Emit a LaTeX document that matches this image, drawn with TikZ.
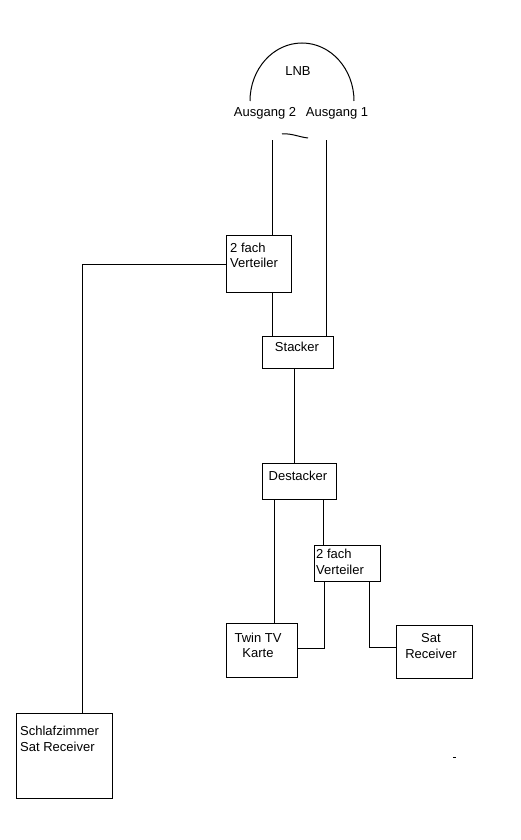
\documentclass[tikz,border=0pt]{standalone}
\usepackage{fontspec}
\setmainfont{Liberation Sans}
\begin{document}
\begin{tikzpicture}[x=1pt,y=-1pt,
  every node/.style={font=\fontsize{13}{15.5}\selectfont},
  conn/.style={draw=black,line width=1pt},
  boxnode/.style={draw=black,line width=1pt,anchor=north west,inner sep=0pt},
  txt/.style={inner sep=0pt,align=left}
]
\useasboundingbox[fill=white] (0,0) rectangle (520,840);

% LNB
\draw[conn] (250,101) arc[start angle=180,end angle=360,x radius=52,y radius=58];
\node[txt] (lnb) at (298,71) {LNB};
\node[txt] (aus2) at (265,113) {Ausgang 2};
\node[txt] (aus1) at (337,113) {Ausgang 1};
\draw[conn] (282,134) .. controls (291,133) and (299,137) .. (308,138);
\coordinate (lnbL) at (272,140);
\coordinate (lnbR) at (326,140);

% boxes
\node[boxnode,minimum width=65pt,minimum height=57pt] (vert1) at (226,235) {};
\node[txt,anchor=north west] (vert1t) at (230,242.5) {2 fach\\Verteiler};

\node[boxnode,minimum width=71pt,minimum height=32pt] (stacker) at (262,336) {};
\node[txt] (stackert) at (297,347) {Stacker};

\node[boxnode,minimum width=74pt,minimum height=36pt] (destacker) at (262,463) {};
\node[txt] (destackert) at (298,476) {Destacker};

\node[boxnode,minimum width=66pt,minimum height=36pt] (vert2) at (314,545) {};
\node[txt,anchor=north west] (vert2t) at (316,549) {2 fach\\Verteiler};

\node[boxnode,minimum width=71pt,minimum height=54pt] (twin) at (226,623) {};
\node[txt,align=center] (twint) at (258,645.5) {Twin TV\\Karte};

\node[boxnode,minimum width=76pt,minimum height=53pt] (sat) at (396,625) {};
\node[txt,align=center] (satt) at (431,646) {Sat\\Receiver};

\node[boxnode,minimum width=96pt,minimum height=85pt] (schlaf) at (16,713) {};
\node[txt,anchor=north west] (schlaft) at (20,726) {Schlafzimmer\\Sat Receiver};

% connectors
\draw[conn] (lnbL) -- (lnbL |- vert1.north);
\draw[conn] (lnbR) -- (lnbR |- stacker.north);
\draw[conn] (vert1.west) -| ([xshift=18pt]schlaf.north);
\draw[conn] (lnbL |- vert1.south) -- (lnbL |- stacker.north);
\draw[conn] ([xshift=-3.5pt]stacker.south) -- ([xshift=-3.5pt]stacker.south |- destacker.north);
\draw[conn] ([xshift=-25pt]destacker.south) -- ([xshift=-25pt]destacker.south |- twin.north);
\draw[conn] ([xshift=24pt]destacker.south) -- ([xshift=24pt]destacker.south |- vert2.north);
\draw[conn] ([xshift=-23pt]vert2.south) |- ([yshift=2pt]twin.east);
\draw[conn] ([xshift=22pt]vert2.south) |- ([yshift=4.5pt]sat.west);

% stray mark
\coordinate (m1) at (453,757);
\coordinate (m2) at (456,757);
\draw[line width=1pt] (m1) -- (m2);
\end{tikzpicture}
\end{document}
